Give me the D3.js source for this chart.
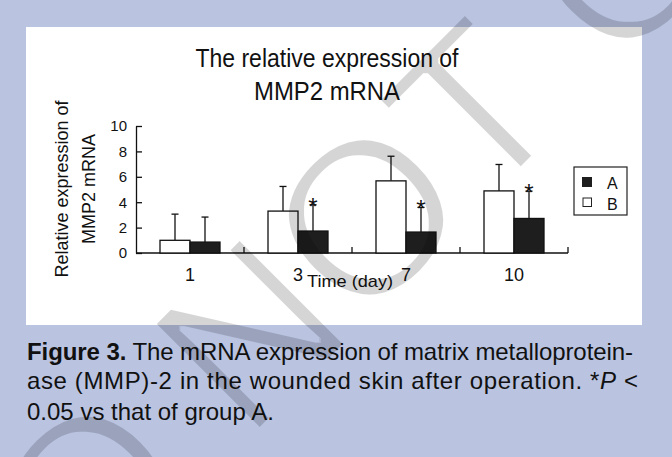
<!DOCTYPE html>
<html>
<head>
<meta charset="utf-8">
<script src="https://cdn.jsdelivr.net/npm/d3@7/dist/d3.min.js"></script>
<style>
html,body{margin:0;padding:0;background:#bac4e1;}
svg{display:block;}
text{font-family:"Liberation Sans",Arial,Helvetica,sans-serif;fill:#111;}
</style>
</head>
<body>
<svg id="chart" width="672" height="457"></svg>
<script>
// ---- data ----
const days = ["1", "3", "7", "10"];
const groupB = [1.0, 3.3, 5.68, 4.89];      // white bars
const groupBsd = [2.06, 1.94, 1.94, 2.08];
const groupA = [0.86, 1.73, 1.65, 2.72];    // black bars
const groupAsd = [1.97, 2.07, 1.94, 2.15];
const significant = [false, true, true, true];
const yTicks = [0, 2, 4, 6, 8, 10];
const titleLines = ["The relative expression of", "MMP2 mRNA"];
const yTitleLines = ["Relative expression of", "MMP2 mRNA"];
const xTitle = "Time (day)";
const legendLabels = ["A", "B"];

const svg = d3.select("#chart");
const W = 672, H = 457;

// background + panel
svg.append("rect").attr("width", W).attr("height", H).attr("fill", "#bac4e1");
svg.append("rect").attr("x", 26).attr("y", 27).attr("width", 616).attr("height", 298).attr("fill", "#ffffff");

// scales
const x = d3.scaleBand().domain(days).range([136, 568]).padding(0);
const y = d3.scaleLinear().domain([0, 10]).range([253, 126]);
const barW = 30;

// title
svg.selectAll("text.title").data(titleLines).join("text")
  .attr("class", "title")
  .attr("x", 327).attr("y", (d, i) => i === 0 ? 67 : 100)
  .attr("text-anchor", "middle")
  .attr("font-size", 26)
  .attr("textLength", (d, i) => i === 0 ? 263 : 146)
  .attr("lengthAdjust", "spacingAndGlyphs")
  .text(d => d);

// y axis
const yAxis = d3.axisLeft(y).tickValues(yTicks).tickSizeInner(-6).tickSizeOuter(0).tickPadding(9);
const gy = svg.append("g").attr("transform", "translate(136,0)").call(yAxis);
gy.select(".domain").attr("stroke", "#111").attr("stroke-width", 1.3);
gy.selectAll(".tick line").attr("stroke", "#111").attr("stroke-width", 1.3);
gy.selectAll(".tick text").attr("font-size", 15).attr("fill", "#111")
  .attr("font-family", "Liberation Sans, Arial, sans-serif");

// x axis: baseline + upward ticks at band boundaries
const boundaries = days.map(d => x(d)).concat([x.range()[1]]);
svg.append("line").attr("x1", 136).attr("x2", x.range()[1]).attr("y1", y(0)).attr("y2", y(0))
  .attr("stroke", "#111").attr("stroke-width", 1.3);
svg.selectAll("line.xtick").data(boundaries.slice(1)).join("line")
  .attr("class", "xtick")
  .attr("x1", d => d).attr("x2", d => d).attr("y1", y(0)).attr("y2", y(0) - 6)
  .attr("stroke", "#111").attr("stroke-width", 1.3);
svg.selectAll("text.xlab").data(days).join("text")
  .attr("class", "xlab")
  .attr("x", d => x(d) + x.bandwidth() / 2).attr("y", 281)
  .attr("text-anchor", "middle").attr("font-size", 18)
  .text(d => d);
svg.append("text").attr("x", 350).attr("y", 287).attr("text-anchor", "middle")
  .attr("font-size", 17).attr("textLength", 86).attr("lengthAdjust", "spacingAndGlyphs")
  .text(xTitle);

// y title
svg.selectAll("text.ytitle").data(yTitleLines).join("text")
  .attr("class", "ytitle")
  .attr("transform", (d, i) => `translate(${i === 0 ? 68 : 95},189) rotate(-90)`)
  .attr("text-anchor", "middle").attr("font-size", 18)
  .text(d => d);

// bars
const rows = days.map((d, i) => ({day: d, b: groupB[i], bsd: groupBsd[i], a: groupA[i], asd: groupAsd[i], sig: significant[i]}));
const g = svg.append("g");
rows.forEach(r => {
  const c = x(r.day) + x.bandwidth() / 2;
  const series = [
    {x0: c - barW, v: r.b, sd: r.bsd, fill: "#ffffff"},
    {x0: c, v: r.a, sd: r.asd, fill: "#1e1e1e"}
  ];
  series.forEach(s => {
    const cx = s.x0 + barW / 2;
    g.append("line").attr("x1", cx).attr("x2", cx).attr("y1", y(s.v)).attr("y2", y(s.v + s.sd))
      .attr("stroke", "#111").attr("stroke-width", 1.3);
    g.append("line").attr("x1", cx - 3.5).attr("x2", cx + 3.5).attr("y1", y(s.v + s.sd)).attr("y2", y(s.v + s.sd))
      .attr("stroke", "#111").attr("stroke-width", 1.3);
    g.append("rect").attr("x", s.x0).attr("y", y(s.v)).attr("width", barW).attr("height", y(0) - y(s.v))
      .attr("fill", s.fill).attr("stroke", "#111").attr("stroke-width", 1.3);
  });
  if (r.sig) {
    g.append("text").attr("x", c + barW / 2).attr("y", y(r.a + r.asd) + 10)
      .attr("text-anchor", "middle").attr("font-size", 24).text("*");
  }
});

// legend
const lg = svg.append("g");
lg.append("rect").attr("x", 574).attr("y", 167).attr("width", 53).attr("height", 48)
  .attr("fill", "#fff").attr("stroke", "#222").attr("stroke-width", 1.2);
lg.append("rect").attr("x", 582).attr("y", 177).attr("width", 10).attr("height", 10).attr("fill", "#1e1e1e");
lg.append("rect").attr("x", 583).attr("y", 198).attr("width", 8.5).attr("height", 8.5)
  .attr("fill", "#fff").attr("stroke", "#222").attr("stroke-width", 1);
lg.selectAll("text").data(legendLabels).join("text")
  .attr("x", 607).attr("y", (d, i) => i === 0 ? 189 : 210)
  .attr("font-size", 16).text(d => d);

// caption
const cap = svg.append("g").attr("fill", "#231f20");
const l1 = cap.append("text").attr("x", 27).attr("y", 360).attr("font-size", 24)
  .attr("textLength", 606).attr("lengthAdjust", "spacing");
l1.append("tspan").attr("font-weight", "bold").text("Figure 3.");
l1.append("tspan").text(" The mRNA expression of matrix metalloprotein-");
const l2 = cap.append("text").attr("x", 27).attr("y", 389).attr("font-size", 24)
  .attr("textLength", 611).attr("lengthAdjust", "spacing");
l2.append("tspan").text("ase (MMP)-2 in the wounded skin after operation. *");
l2.append("tspan").attr("font-style", "italic").text("P");
l2.append("tspan").text(" <");
cap.append("text").attr("x", 27).attr("y", 420).attr("font-size", 24).text("0.05 vs that of group A.");

// watermark (slightly thinned with an erode filter)
const defs = svg.append("defs");
const f = defs.append("filter").attr("id", "thin")
  .attr("filterUnits", "userSpaceOnUse").attr("x", -20).attr("y", -20).attr("width", W + 40).attr("height", H + 40);
f.append("feMorphology").attr("operator", "erode").attr("radius", 1.5);
const wmG = svg.append("g").attr("filter", "url(#thin)").attr("opacity", 0.16);
const wmFont = 220;
const wm = wmG.append("text").attr("font-family", "Liberation Serif, Times New Roman, serif")
  .attr("font-size", wmFont)
  .style("fill", "#000").attr("x", 0).attr("y", 0).text("DO NOT COPY");
const node = wm.node();
const off = node.getSubStringLength(0, 4) + node.getSubStringLength(4, 1) / 2;
// place centre of the "O" in NOT at (367,218), rotated -45deg
const ang = -45 * Math.PI / 180;
const cy0 = -0.34 * wmFont;
const px = 367 - (off * Math.cos(ang) - cy0 * Math.sin(ang));
const py = 218 - (off * Math.sin(ang) + cy0 * Math.cos(ang));
wm.attr("transform", `translate(${px},${py}) rotate(-45)`);
</script>
</body>
</html>
